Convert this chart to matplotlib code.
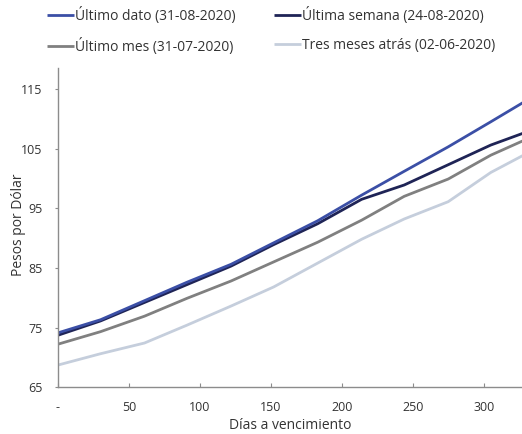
import matplotlib
matplotlib.use('Agg')
import matplotlib.pyplot as plt

plt.rcParams['font.family'] = ['Open Sans', 'DejaVu Sans']

dias = [0, 30, 61, 91, 122, 152, 183, 214, 244, 275, 305, 336]
ultimo_dato = [74.1, 76.3, 79.5, 82.6, 85.6, 89.2, 92.9, 97.2, 101.2, 105.3, 109.5, 113.9]
ultima_semana = [73.7, 76.1, 79.2, 82.2, 85.3, 88.9, 92.4, 96.5, 98.9, 102.3, 105.6, 108.3]
ultimo_mes = [72.2, 74.3, 76.9, 79.9, 82.8, 86.0, 89.3, 93.0, 97.0, 99.9, 103.9, 107.2]
tres_meses = [68.7, 70.6, 72.4, 75.4, 78.6, 81.8, 85.8, 89.8, 93.2, 96.1, 101.0, 104.9]

etiquetas = ['Último dato (31-08-2020)', 'Última semana (24-08-2020)',
             'Último mes (31-07-2020)', 'Tres meses atrás (02-06-2020)']
colores = ['#3B4FA6', '#1F2456', '#808080', '#C5CEDC']

x_ticks = [0, 50, 100, 150, 200, 250, 300]
x_labels = ['-', '50', '100', '150', '200', '250', '300']
y_ticks = [65, 75, 85, 95, 105, 115]

fig = plt.figure(figsize=(5.22, 4.34), dpi=100)
ax = fig.add_axes([0.111, 0.108, 0.889, 0.735])

series = [ultimo_dato, ultima_semana, ultimo_mes, tres_meses]
lineas = {}
for i in [3, 2, 1, 0]:
    lineas[i], = ax.plot(dias, series[i], color=colores[i], lw=2.0,
                         label=etiquetas[i], solid_capstyle='butt')

ax.set_xlim(0, 327)
ax.set_ylim(65, 118.5)
ax.set_xticks(x_ticks)
ax.set_xticklabels(x_labels)
ax.set_yticks(y_ticks)

for s in ['top', 'right']:
    ax.spines[s].set_visible(False)
for s in ['left', 'bottom']:
    ax.spines[s].set_color('#8c8c8c')
    ax.spines[s].set_linewidth(1.0)

ax.tick_params(axis='x', direction='in', length=3, color='#8c8c8c',
               labelsize=9, labelcolor='#333333', pad=10)
ax.tick_params(axis='y', direction='out', length=2.5, color='#8c8c8c',
               labelsize=9, labelcolor='#333333', pad=8.5)

ax.set_xlabel('Días a vencimiento', fontsize=10, color='#333333', labelpad=3)
ax.set_ylabel('Pesos por Dólar', fontsize=10, color='#333333')
ax.yaxis.set_label_coords(-0.068, 0.51)

# matplotlib fills the legend column by column
handles = [lineas[0], lineas[2], lineas[1], lineas[3]]
textos = [etiquetas[0], etiquetas[2], etiquetas[1], etiquetas[3]]
fig.legend(handles, textos, ncol=2, loc='upper left',
           bbox_to_anchor=(0.066, 1.012), frameon=False, fontsize=10,
           handlelength=1.95, handletextpad=0.1, columnspacing=2.7,
           labelspacing=1.0, labelcolor='#333333')

fig.savefig('out.png', dpi=100)
